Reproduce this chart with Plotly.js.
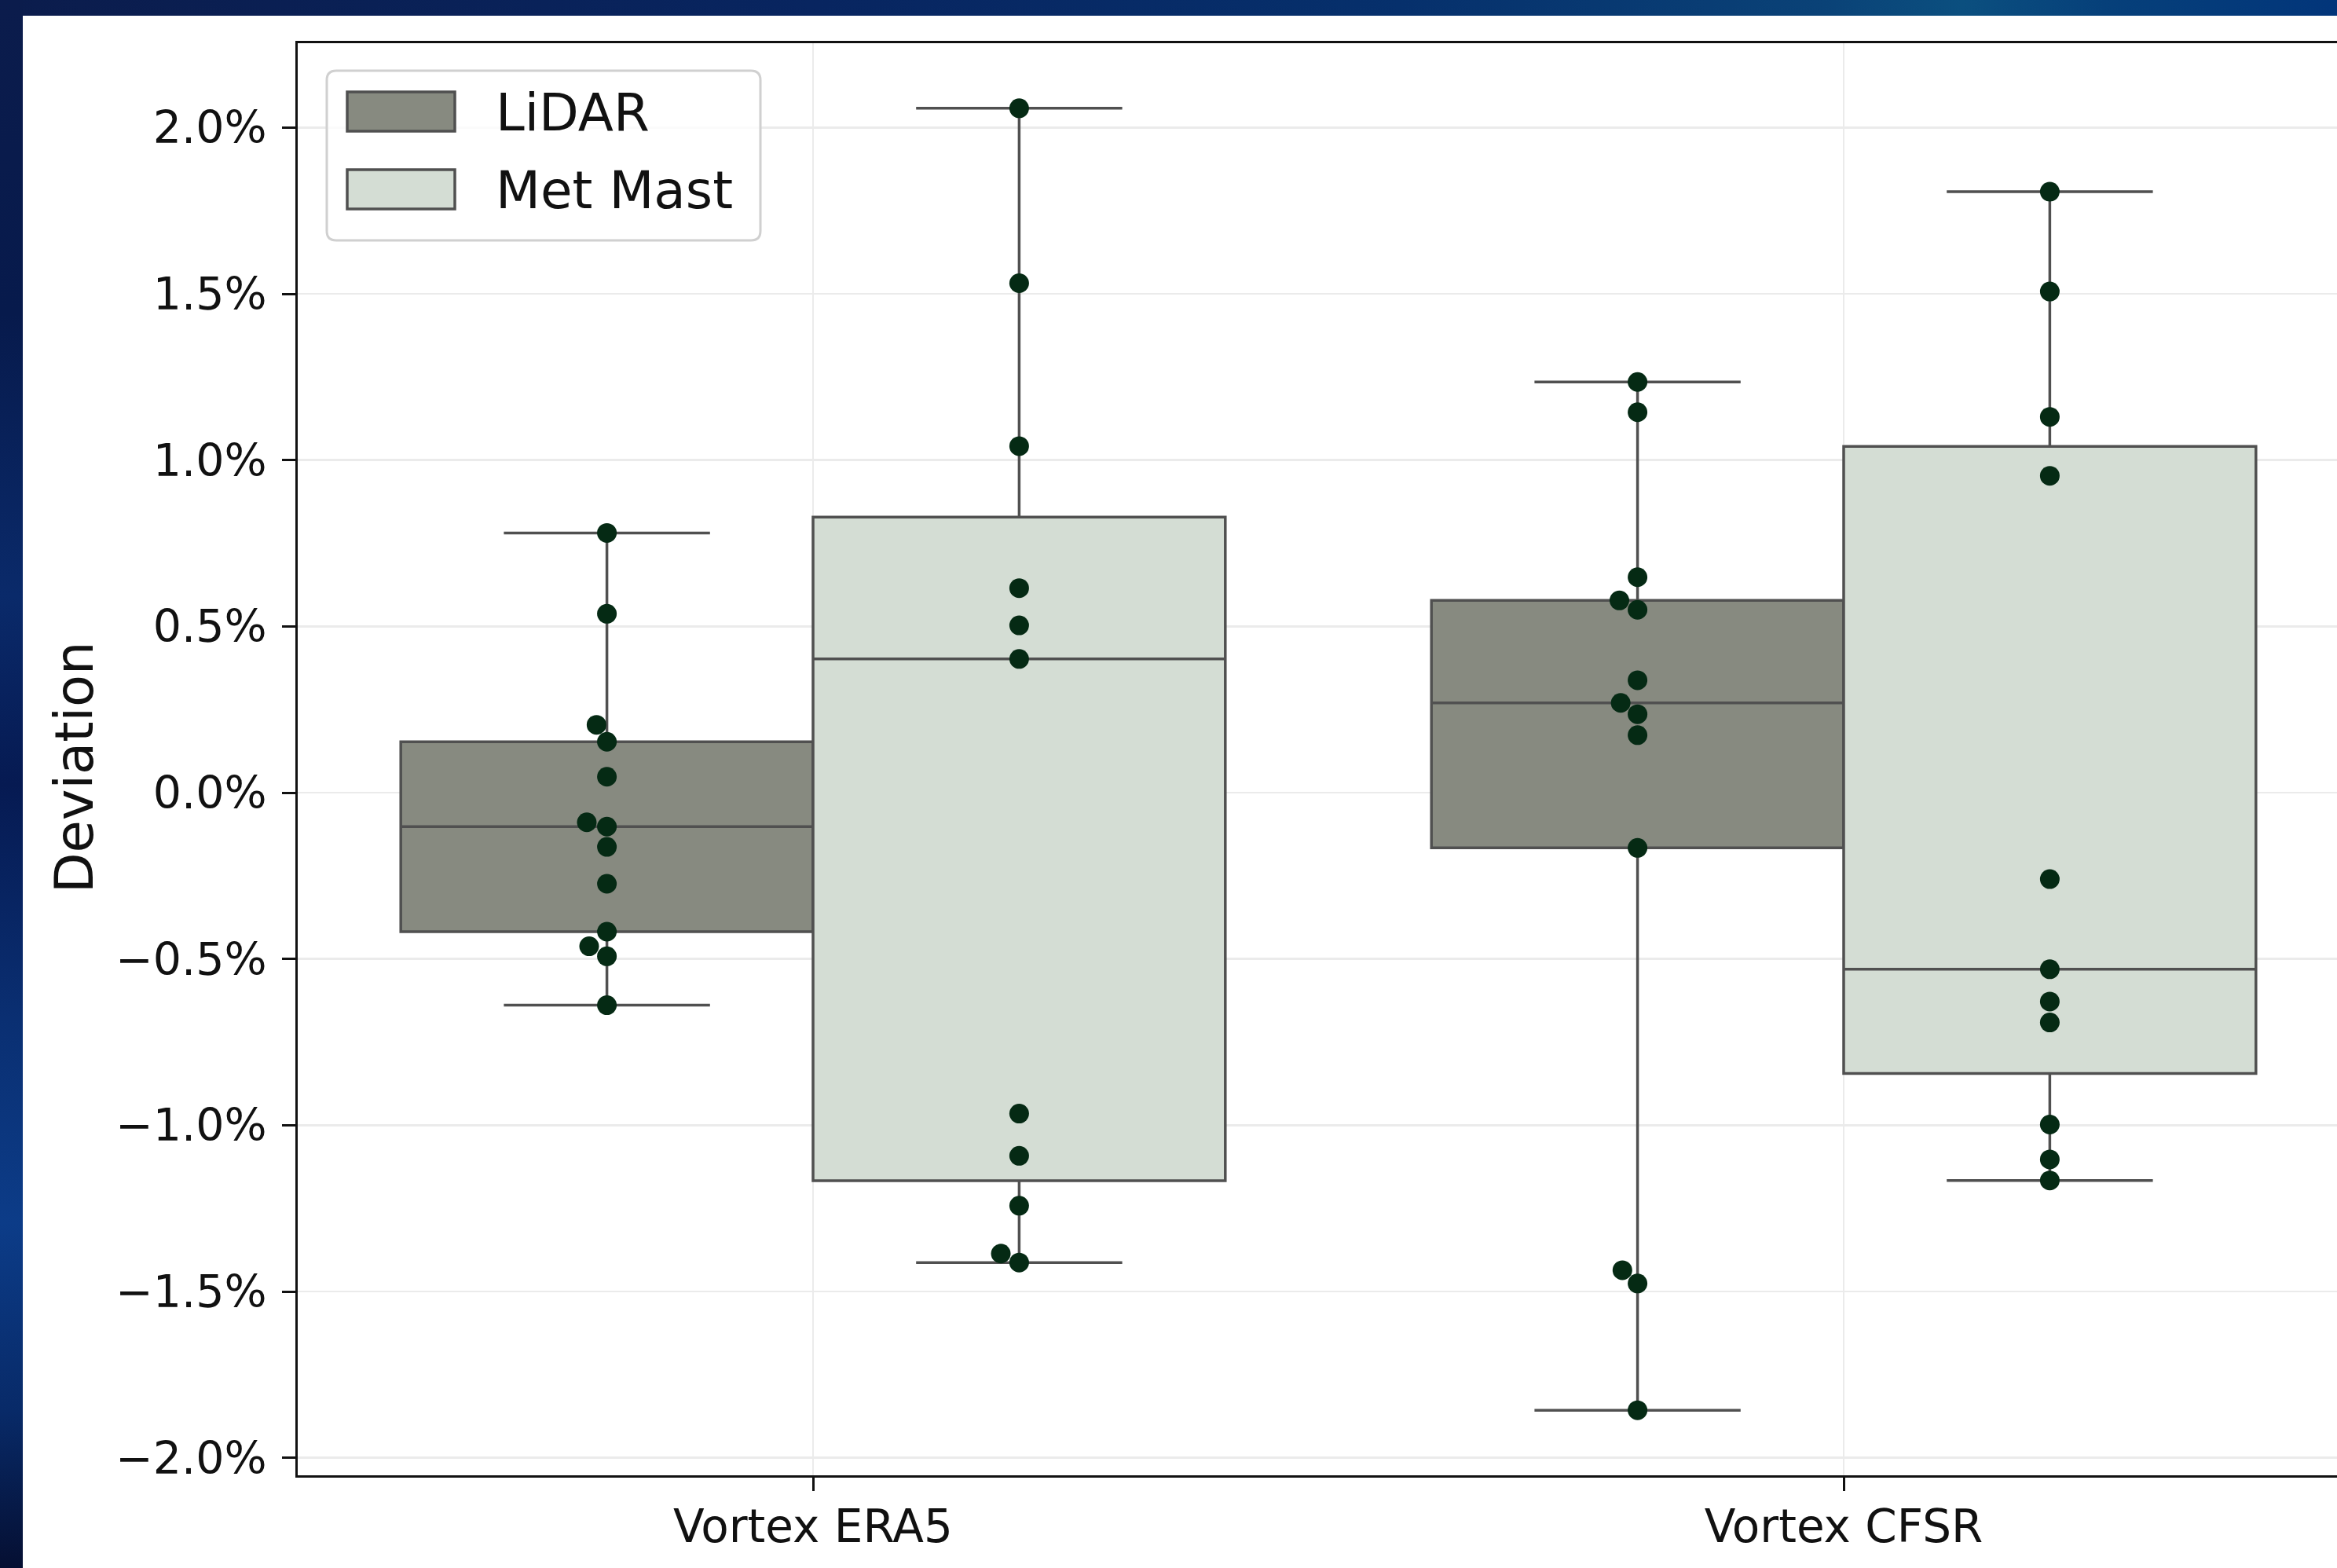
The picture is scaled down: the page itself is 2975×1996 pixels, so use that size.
<!DOCTYPE html>
<html>
<head>
<meta charset="utf-8">
<script src="https://cdn.plot.ly/plotly-3.0.1.min.js"></script>
<style>
  html, body { margin: 0; padding: 0; }
  body {
    width: 2975px; height: 1996px; overflow: hidden; position: relative;
    background: linear-gradient(90deg, #0b1c4c 0%, #082560 35%, #06306c 60%, #0a4277 78%, #0b4f7f 84%, #06407a 90%, #02357a 100%);
  }
  #leftband {
    position: absolute; left: 0; top: 0; width: 29px; height: 1996px;
    background: linear-gradient(180deg, #0b1c4c 0%, #071a4c 20%, #0a2a6a 38%, #061a52 50%, #0a2f72 65%, #0c3c88 78%, #082a68 90%, #050f32 100%);
  }
  #chart { position: absolute; left: 29px; top: 20px; width: 2981px; height: 1976px; background: #ffffff; }
</style>
</head>
<body>
<div id="leftband"></div>
<div id="chart"></div>
<script>
// ---------------- data (percent deviation) ----------------
const categories = ['Vortex ERA5', 'Vortex CFSR'];
const seriesNames = ['LiDAR', 'Met Mast'];
const yTitle = 'Deviation';

const lidarEra5 = [0.781, 0.538, 0.204, 0.153, 0.048, -0.089, -0.102, -0.163, -0.274, -0.418, -0.462, -0.492, -0.639];
const lidarCfsr = [1.235, 1.144, 0.648, 0.578, 0.550, 0.338, 0.270, 0.236, 0.173, -0.166, -1.436, -1.476, -1.857];
const metMastEra5 = [2.058, 1.532, 1.042, 0.615, 0.503, 0.402, -0.965, -1.092, -1.242, -1.386, -1.413];
const metMastCfsr = [1.807, 1.507, 1.130, 0.953, -0.260, -0.531, -0.628, -0.691, -0.998, -1.103, -1.166];

const seriesData = [[lidarEra5, lidarCfsr], [metMastEra5, metMastCfsr]];

// ---------------- styles ----------------
const fillColors = ['#878a80', '#d4ddd4'];
const lineColor = '#505050';
const dotColor = '#052a14';
const textColor = '#111111';
const FONT = 'DejaVu Sans, Verdana, sans-serif';

// ---------------- geometry ----------------
const W = 2981, H = 1976;
const M = {l: 350, r: 7, t: 35, b: 118};
const plotW = W - M.l - M.r, plotH = H - M.t - M.b;
const xRange = [-0.5, 1.5];

// y range like matplotlib autoscale (5% margins)
const allVals = [].concat(lidarEra5, lidarCfsr, metMastEra5, metMastCfsr);
const vMin = Math.min(...allVals), vMax = Math.max(...allVals);
const span = vMax - vMin;
const yRange = [vMin - 0.05 * span, vMax + 0.05 * span];

// quartiles (numpy linear method)
function quantile(arr, p) {
  const s = arr.slice().sort((a, b) => a - b);
  const pos = (s.length - 1) * p;
  const lo = Math.floor(pos), hi = Math.ceil(pos);
  return s[lo] + (s[hi] - s[lo]) * (pos - lo);
}

// seaborn-like beeswarm (pixel space), returns x offsets in px
function swarmOffsets(values, pxPerY, r) {
  const pts = values.map((v, i) => ({i: i, y: v * pxPerY}));
  pts.sort((a, b) => a.y - b.y);
  const placed = [];
  const off = new Array(values.length).fill(0);
  for (const p of pts) {
    const nb = [];
    for (let k = placed.length - 1; k >= 0; k--) {
      if (p.y - placed[k].y < 2 * r) nb.unshift(placed[k]); else break;
    }
    const cands = [0];
    let leftFirst = true;
    for (const q of nb) {
      const dy = p.y - q.y;
      const dx = Math.sqrt(Math.max(4 * r * r - dy * dy, 0)) * 1.05;
      if (leftFirst) cands.push(q.x - dx, q.x + dx); else cands.push(q.x + dx, q.x - dx);
      leftFirst = !leftFirst;
    }
    const sorted = cands.map((c, k) => ({c: c, k: k}))
      .sort((a, b) => (Math.abs(a.c) - Math.abs(b.c)) || (a.k - b.k)).map(o => o.c);
    let chosen = sorted[0];
    for (const c of sorted) {
      let ok = true;
      for (const q of nb) {
        const dx = c - q.x, dy = p.y - q.y;
        if (dx * dx + dy * dy - 4 * r * r < -1e-9) { ok = false; break; }
      }
      if (ok) { chosen = c; break; }
    }
    placed.push({x: chosen, y: p.y});
    off[p.i] = chosen;
  }
  return off;
}

const pxPerY = plotH / (yRange[1] - yRange[0]);
const pxPerX = plotW / (xRange[1] - xRange[0]);
const dotDiameter = 25;
const groupOffsets = [-0.2, 0.2];

const traces = [];
// boxes
seriesNames.forEach((name, s) => {
  const d = seriesData[s];
  traces.push({
    type: 'box',
    name: name,
    x: categories.map((c, i) => i),
    q1: d.map(v => quantile(v, 0.25)),
    median: d.map(v => quantile(v, 0.5)),
    q3: d.map(v => quantile(v, 0.75)),
    lowerfence: d.map(v => Math.min(...v)),
    upperfence: d.map(v => Math.max(...v)),
    boxpoints: false,
    whiskerwidth: 0.5,
    fillcolor: fillColors[s],
    line: {color: lineColor, width: 3.5},
    showlegend: false,
    hoverinfo: 'skip'
  });
});
// swarm points
seriesNames.forEach((name, s) => {
  const xs = [], ys = [];
  seriesData[s].forEach((vals, ci) => {
    const offs = swarmOffsets(vals, pxPerY, dotDiameter / 2);
    vals.forEach((v, k) => {
      xs.push(ci + groupOffsets[s] + offs[k] / pxPerX);
      ys.push(v);
    });
  });
  traces.push({
    type: 'scatter', mode: 'markers', x: xs, y: ys,
    marker: {color: dotColor, size: dotDiameter, line: {width: 0}},
    showlegend: false, hoverinfo: 'skip'
  });
});

// ---------------- manual legend (pixel -> paper) ----------------
const pageLeft = 29, pageTop = 20;
function px(X) { return (X - pageLeft - M.l) / plotW; }
function py(Y) { return 1 - (Y - pageTop - M.t) / plotH; }

function roundRectPath(x0, y0, x1, y1, r) {
  const rx = r / plotW, ry = r / plotH;
  const L = px(x0), R = px(x1), T = py(y0), B = py(y1);
  return `M${L + rx},${T} L${R - rx},${T} Q${R},${T} ${R},${T - ry} L${R},${B + ry} Q${R},${B} ${R - rx},${B} ` +
         `L${L + rx},${B} Q${L},${B} ${L},${B + ry} L${L},${T - ry} Q${L},${T} ${L + rx},${T} Z`;
}

const shapes = [
  {type: 'path', xref: 'paper', yref: 'paper', path: roundRectPath(416, 90, 968, 306, 12),
   fillcolor: 'rgba(255,255,255,0.8)', line: {color: '#d0d0d0', width: 3}, layer: 'above'}
];
const legendRows = [142, 241];
const annotations = [];
seriesNames.forEach((name, s) => {
  const cy = legendRows[s];
  shapes.push({type: 'rect', xref: 'paper', yref: 'paper',
    x0: px(442), x1: px(579), y0: py(cy - 25), y1: py(cy + 25),
    fillcolor: fillColors[s], line: {color: lineColor, width: 3.5}, layer: 'above'});
  annotations.push({xref: 'paper', yref: 'paper', x: px(629), y: py(cy + 1), xanchor: 'left', yanchor: 'middle',
    text: name, showarrow: false, font: {family: FONT, size: 66, color: textColor}});
});
// y-axis title placed as rotated text
annotations.push({xref: 'paper', yref: 'paper', x: px(95), y: py(977), xanchor: 'center', yanchor: 'middle',
  text: yTitle, textangle: -90, showarrow: false, font: {family: FONT, size: 67, color: textColor}});

const layout = {
  width: W, height: H,
  margin: M,
  paper_bgcolor: '#ffffff', plot_bgcolor: '#ffffff',
  font: {family: FONT, color: textColor},
  boxmode: 'group', boxgap: 0.2, boxgroupgap: 0,
  showlegend: false,
  xaxis: {
    type: 'linear', range: xRange,
    tickmode: 'array', tickvals: categories.map((c, i) => i), ticktext: categories,
    showgrid: true, gridcolor: '#ebebeb', gridwidth: 2.5,
    zeroline: false, showline: true, linecolor: textColor, linewidth: 3, mirror: true,
    ticks: 'outside', ticklen: 17, tickwidth: 3, tickcolor: textColor,
    tickfont: {family: FONT, size: 58, color: textColor},
    ticklabelstandoff: -5
  },
  yaxis: {
    range: yRange,
    tickmode: 'linear', tick0: 0, dtick: 0.5, tickformat: '.1f', ticksuffix: '%',
    showgrid: true, gridcolor: '#ebebeb', gridwidth: 2.5,
    zeroline: false, showline: true, linecolor: textColor, linewidth: 3, mirror: true,
    ticks: 'outside', ticklen: 17, tickwidth: 3, tickcolor: textColor,
    tickfont: {family: FONT, size: 57, color: textColor},
    ticklabelstandoff: 8
  },
  shapes: shapes,
  annotations: annotations
};

Plotly.newPlot('chart', traces, layout, {staticPlot: true, displayModeBar: false});
</script>
</body>
</html>
